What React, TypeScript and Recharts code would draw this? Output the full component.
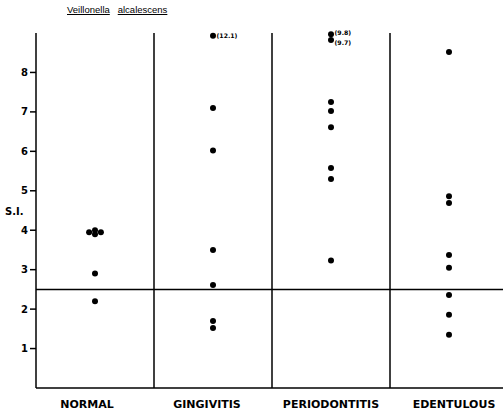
import React from 'react';
import {
  ScatterChart,
  Scatter,
  XAxis,
  YAxis,
  ReferenceLine,
  LabelList,
} from 'recharts';

const groups = ['NORMAL', 'GINGIVITIS', 'PERIODONTITIS', 'EDENTULOUS'];
const normalValues = [4.0, 3.9, 3.95, 3.95, 2.9, 2.2];
const normalJitter = [0, 0, -0.05, 0.05, 0, 0];
const gingivitisValues = [8.93, 7.1, 6.02, 3.5, 2.61, 1.7, 1.52];
const gingivitisNotes = ['(12.1)', '', '', '', '', '', ''];
const periodontitisValues = [8.97, 8.82, 7.25, 7.02, 6.61, 5.58, 5.3, 3.23];
const periodontitisNotes = ['(9.8)', '(9.7)', '', '', '', '', '', ''];
const edentulousValues = [8.52, 4.86, 4.69, 3.37, 3.05, 2.36, 1.86, 1.35];
const yTicks = [1, 2, 3, 4, 5, 6, 7, 8];
const threshold = 2.5;

const toPoints = (values: number[], group: number, jitter?: number[], notes?: string[]) =>
  values.map((v, i) => ({
    x: group + 0.5 + (jitter ? jitter[i] : 0),
    y: v,
    note: notes ? notes[i] : '',
  }));

const data = [
  ...toPoints(normalValues, 0, normalJitter),
  ...toPoints(gingivitisValues, 1, undefined, gingivitisNotes),
  ...toPoints(periodontitisValues, 2, undefined, periodontitisNotes),
  ...toPoints(edentulousValues, 3),
];

const FONT = '"DejaVu Sans", sans-serif';

// the printed labels are not quite centred under their columns
const labelShift = [-8, -6, 0, 5];

const GroupTick = (props: any) => {
  const { x, y, payload, index } = props;
  return (
    <text
      x={x + labelShift[index]}
      y={y + 12}
      textAnchor="middle"
      fontFamily={FONT}
      fontWeight="bold"
      fontSize={11}
      fill="#000"
    >
      {groups[index] ?? payload.value}
    </text>
  );
};

const Dot = (props: any) => <circle cx={props.cx} cy={props.cy} r={3} fill="#000" />;

const Note = (props: any) => {
  const { x, y, width, height, value, index } = props;
  if (!value) return null;
  // spread stacked notes apart a little so they don't collide
  let dy = 0;
  if (data[index + 1]?.note) dy = -2;
  else if (data[index - 1]?.note) dy = 2;
  return (
    <text
      x={x + width / 2 + 3.5}
      y={y + height / 2 + 2.5 + dy}
      fontFamily={FONT}
      fontWeight="bold"
      fontSize={6.2}
      fill="#000"
    >
      {value}
    </text>
  );
};

export default function App() {
  return (
    <div style={{ position: 'absolute', left: 0, top: 0, width: 503, height: 416, overflow: 'hidden', background: '#fff' }}>
      <div
        style={{
          position: 'absolute',
          left: 67,
          top: 4,
          fontFamily: '"Liberation Sans", sans-serif',
          fontSize: 9.5,
          color: '#000',
          whiteSpace: 'pre',
        }}
      >
        <span style={{ textDecoration: 'underline' }}>Veillonella</span>
        {'   '}
        <span style={{ textDecoration: 'underline' }}>alcalescens</span>
      </div>
      <div style={{ position: 'absolute', left: 5, top: 206, fontFamily: FONT, fontWeight: 'bold', fontSize: 10 }}>
        S.I.
      </div>
      <ScatterChart width={510} height={416} margin={{ top: 33, right: 2, bottom: 0, left: 0 }}>
        <XAxis
          type="number"
          dataKey="x"
          domain={[0, 4]}
          ticks={[0.5, 1.5, 2.5, 3.5]}
          tickLine={false}
          axisLine={{ stroke: '#000', strokeWidth: 1.5 }}
          height={28}
          tick={<GroupTick />}
          interval={0}
        />
        <YAxis
          type="number"
          dataKey="y"
          domain={[0, 9]}
          ticks={yTicks}
          width={36}
          tickSize={6}
          tickMargin={2}
          axisLine={{ stroke: '#000', strokeWidth: 1.5 }}
          tickLine={{ stroke: '#000', strokeWidth: 1.5 }}
          tick={{ fill: '#000', fontSize: 10, fontWeight: 'bold', fontFamily: FONT }}
        />
        <ReferenceLine x={1} stroke="#000" strokeWidth={1.5} />
        <ReferenceLine x={2} stroke="#000" strokeWidth={1.5} />
        <ReferenceLine x={3} stroke="#000" strokeWidth={1.5} />
        <ReferenceLine y={threshold} stroke="#000" strokeWidth={1.5} />
        <Scatter data={data} shape={<Dot />} isAnimationActive={false}>
          <LabelList dataKey="note" content={<Note />} />
        </Scatter>
      </ScatterChart>
    </div>
  );
}
